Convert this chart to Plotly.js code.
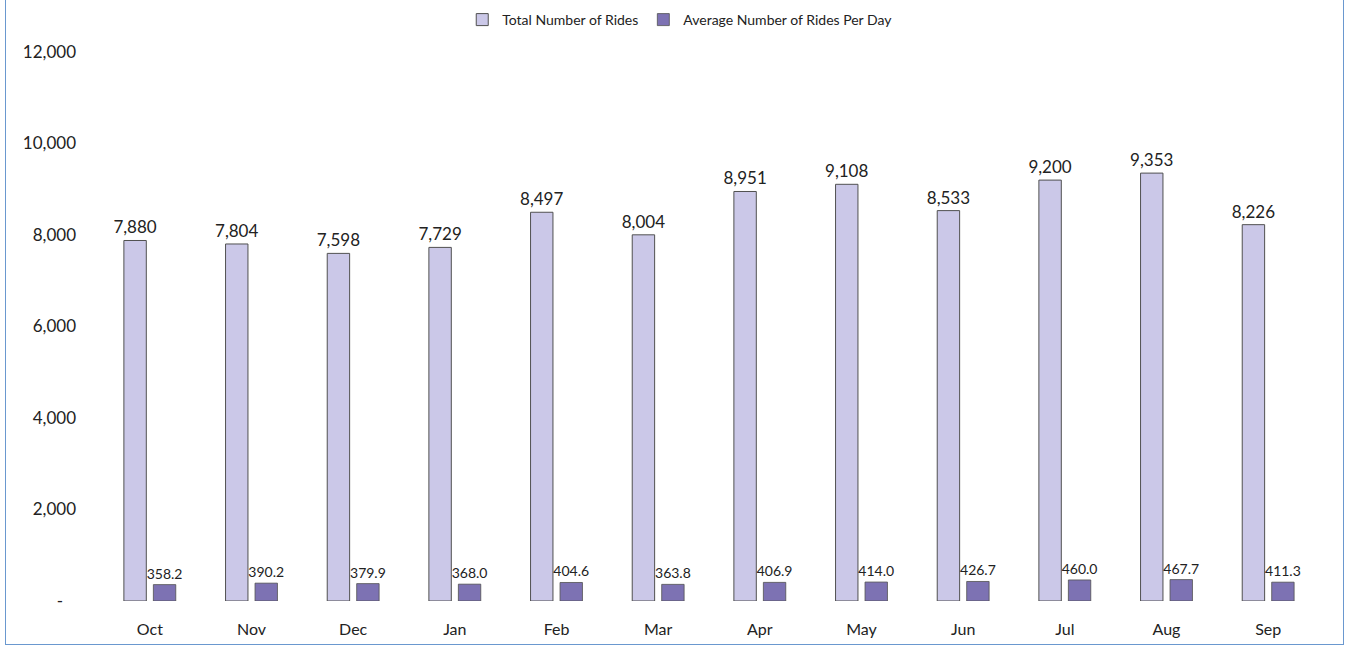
<!DOCTYPE html>
<html>
<head>
<meta charset="utf-8">
<script src="https://cdn.plot.ly/plotly-3.0.1.min.js"></script>
<style>
html,body{margin:0;padding:0;background:#fff;}
#wrap{position:relative;width:1347px;height:649px;overflow:hidden;}
#chart{width:1347px;height:649px;}
#frame{position:absolute;left:5px;top:-3px;width:1337px;height:646px;border:1.5px solid #6a98cf;pointer-events:none;}
</style>
</head>
<body>
<div id="wrap"><div id="chart"></div><div id="frame"></div></div>
<script>
const months = ["Oct","Nov","Dec","Jan","Feb","Mar","Apr","May","Jun","Jul","Aug","Sep"];
const totalRides = [7880,7804,7598,7729,8497,8004,8951,9108,8533,9200,9353,8226];
const avgRidesPerDay = [358.2,390.2,379.9,368.0,404.6,363.8,406.9,414.0,426.7,460.0,467.7,411.3];
const yTickVals = [0,2000,4000,6000,8000,10000,12000];
const yTickText = ["-\u00a0\u00a0\u00a0","2,000","4,000","6,000","8,000","10,000","12,000"];

const font = "Lato, 'Open Sans', sans-serif";

const traces = [
  {
    type: "bar", name: "Total Number of Rides", x: months, y: totalRides,
    marker: {color: "#cbc8e8", line: {color: "#505050", width: 1}},
    text: totalRides.map(v => v.toLocaleString("en-US")),
    textposition: "outside", cliponaxis: false, constraintext: "none",
    textfont: {family: font, size: 17, color: "#222"}
  },
  {
    type: "bar", name: "Average Number of Rides Per Day", x: months, y: avgRidesPerDay,
    marker: {color: "#7d72b3", line: {color: "#505050", width: 0.8}},
    text: avgRidesPerDay.map(v => v.toFixed(1)),
    textposition: "outside", cliponaxis: false, constraintext: "none",
    textfont: {family: font, size: 14, color: "#222"}
  }
];

const layout = {
  width: 1347, height: 649,
  margin: {l: 99, r: 28, t: 52, b: 48},
  paper_bgcolor: "#fff", plot_bgcolor: "#fff",
  font: {family: font, color: "#222"},
  barmode: "group", bargap: 0.42, bargroupgap: 0.24,
  showlegend: true,
  legend: {orientation: "h", x: 0.505, xanchor: "center", xref: "container",
           y: 1 - 20/649, yanchor: "middle", yref: "container",
           font: {family: font, size: 14, color: "#222"}, traceorder: "normal"},
  xaxis: {showgrid: false, zeroline: false, showline: false, ticks: "",
          ticklabelstandoff: 17,
          tickfont: {family: font, size: 16, color: "#222"}},
  yaxis: {range: [0, 12000], tickvals: yTickVals, ticktext: yTickText,
          showgrid: false, zeroline: false, showline: false, ticks: "",
          ticklabelstandoff: 22,
          tickfont: {family: font, size: 17, color: "#222"}}
};

Plotly.newPlot("chart", traces, layout, {displayModeBar: false, staticPlot: true});
</script>
</body>
</html>
